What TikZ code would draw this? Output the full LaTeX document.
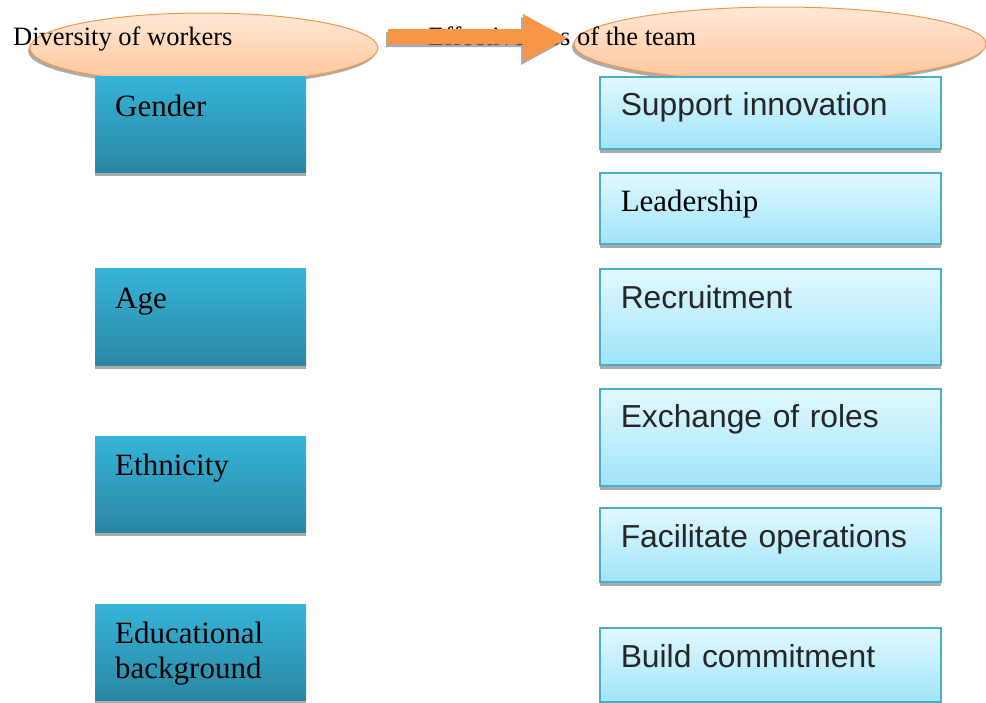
\documentclass[tikz,border=0pt]{standalone}
\usepackage{fontspec}
\setmainfont{Liberation Serif}
\newfontfamily\arialfont{Liberation Sans}
\usetikzlibrary{shapes.geometric,shadows}

\definecolor{peachtop}{HTML}{FFE8D7}
\definecolor{peachbot}{HTML}{FFC599}
\definecolor{orangeline}{HTML}{F79646}
\definecolor{tealtop}{HTML}{36B5DA}
\definecolor{tealbot}{HTML}{2A86A2}
\definecolor{icetop}{HTML}{E2F8FE}
\definecolor{icebot}{HTML}{9FE5FA}
\definecolor{iceline}{HTML}{4BACC6}
\definecolor{inkgray}{HTML}{262626}

\tikzset{
  oval/.style={ellipse, draw=orangeline, line width=1pt, inner sep=0pt,
    top color=peachtop, bottom color=peachbot,
    drop shadow={shadow xshift=-2pt, shadow yshift=-3pt, fill=black!55, opacity=.6}},
  ovaltext/.style={anchor=base west, inner sep=0pt, font=\fontsize{26.5}{30}\selectfont},
  factor/.style={anchor=north west, top color=tealtop, bottom color=tealbot,
    text width=171pt, inner xsep=20pt, inner ysep=0pt, align=left,
    text height=40pt, text depth=57pt, font=\fontsize{31}{35}\selectfont,
    drop shadow={shadow xshift=0pt, shadow yshift=-4pt, fill=black!55, opacity=.6}},
  effect/.style={anchor=north west, draw=iceline, line width=1.5pt,
    top color=icetop, bottom color=icebot,
    text width=299pt, inner xsep=21pt, inner ysep=0pt, align=left,
    text height=39pt, text=inkgray, font=\arialfont\fontsize{31.8}{35}\selectfont,
    drop shadow={shadow xshift=0pt, shadow yshift=-4pt, fill=black!55, opacity=.6}}
}

\begin{document}
\begin{tikzpicture}[x=1pt, y=-1pt]
  \useasboundingbox (0,0) rectangle (986,702);

  % the two headings
  \node [oval, minimum width=348pt, minimum height=70pt] (workers) at (204,48) {};
  \node [ovaltext] (workerstxt) at (13,45) {Diversity of workers};
  \node [oval, minimum width=412pt, minimum height=74pt] (team) at (780,44) {};
  \node [ovaltext] (teamtxt) at (428,45) {Effectiveness of the team};

  % block arrow between the headings
  \fill [black!55, opacity=.6, xshift=-2pt, yshift=-3pt]
    (388,29) -- (523,29) -- (523,14) -- (567,38) -- (523,62) -- (523,44) -- (388,44) -- cycle;
  \fill [orangeline]
    (388,29) -- (523,29) -- (523,14) -- (567,38) -- (523,62) -- (523,44) -- (388,44) -- cycle;

  % left column
  \node [factor, text depth=56pt] (gender) at (95,76) {Gender};
  \node [factor] (age) at (95,268) {Age};
  \node [factor, text height=39pt] (ethnic) at (95,436) {Ethnicity};
  \node [factor, text height=39pt, text depth=57pt] (educ) at (95,604) {Educational\\background};

  % right column
  \node [effect, text depth=33pt] (innov) at (599,76) {Support innovation};
  \node [effect, text depth=32pt, text=black, font=\rmfamily\fontsize{31}{35}\selectfont]
    (leader) at (599,172) {Leadership};
  \node [effect, text height=40pt, text depth=56pt] (recruit) at (599,268) {Recruitment};
  \node [effect, text depth=58pt] (roles) at (599,388) {Exchange of roles};
  \node [effect, text height=40pt, text depth=34pt] (ops) at (599,507) {Facilitate operations};
  \node [effect, text height=40pt, text depth=34pt] (commit) at (599,627) {Build commitment};
\end{tikzpicture}
\end{document}
